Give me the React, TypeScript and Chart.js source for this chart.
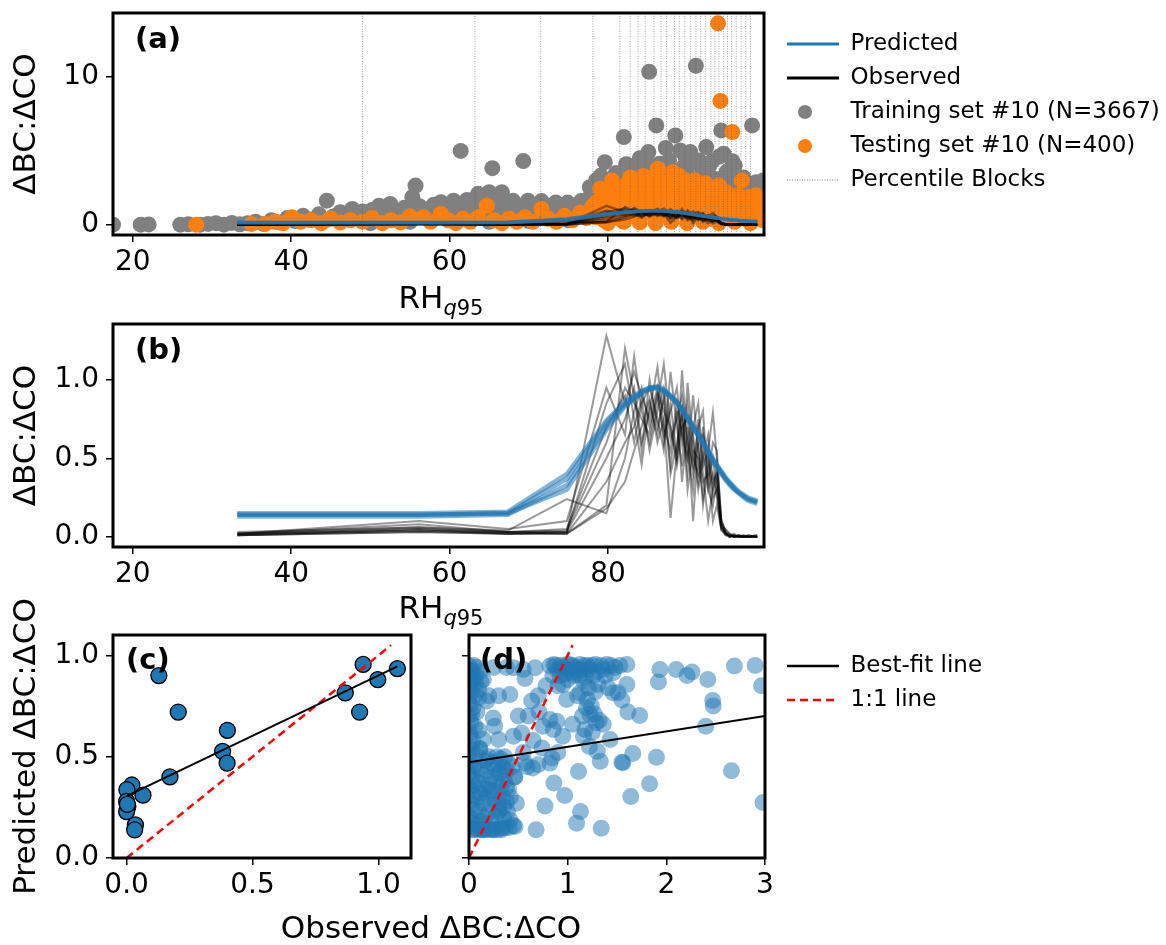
import React, { useEffect, useRef } from 'react';
import { Chart, registerables } from 'chart.js';

Chart.register(...registerables);

const FONT = "'DejaVu Sans', 'Liberation Sans', Arial, sans-serif";
Chart.defaults.font.family = FONT;
Chart.defaults.color = '#000';

const PAGE_W = 1166;
const PAGE_H = 945;
const LEGEND_CANVAS_W = 1400;

// ---------------- texts ----------------
const PANEL_LABELS = ['(a)', '(b)', '(c)', '(d)'];
const Y_TITLE_AB = 'ΔBC:ΔCO';
const Y_TITLE_C = 'Predicted ΔBC:ΔCO';
const X_TITLE_CD = 'Observed ΔBC:ΔCO';
const X_TITLE_RH = ['RH', 'q', '95'];
const LEGEND_TOP = ['Predicted', 'Observed', 'Training set #10 (N=3667)', 'Testing set #10 (N=400)', 'Percentile Blocks'];
const LEGEND_BOTTOM = ['Best-fit line', '1:1 line'];

// ---------------- ticks ----------------
const RH_TICKS = [20, 40, 60, 80];
const A_Y_TICKS = [0, 10];
const B_Y_TICKS = [0, 0.5, 1];
const C_X_TICKS = [0, 0.5, 1];
const C_Y_TICKS = [0, 0.5, 1];
const D_X_TICKS = [0, 1, 2, 3];
const D_Y_TICKS = [0, 0.5, 1];

// ---------------- panel (a)/(b) data ----------------
const PERCENTILE_BLOCKS = [49.0, 63.2, 71.5, 78.1, 81.5, 82.8, 83.8, 84.7, 85.8, 86.7, 87.4, 88.4, 89.0, 89.7, 90.4, 91.1, 91.7, 92.3, 93.0, 93.5, 94.0, 94.6, 95.1, 95.6, 96.2, 96.8, 97.4, 98.0];
const BLOCK_CENTERS = [33.2, 56.1, 67.35, 74.8, 79.8, 82.15, 83.3, 84.25, 85.25, 86.25, 87.05, 87.9, 88.7, 89.35, 90.05, 90.75, 91.4, 92.0, 92.65, 93.25, 93.75, 94.3, 94.85, 95.35, 95.9, 96.5, 97.1, 97.7, 98.85];

const PREDICTED_1 = [0.14, 0.14, 0.15, 0.37, 0.73, 0.85, 0.89, 0.92, 0.95, 0.95, 0.93, 0.90, 0.86, 0.81, 0.76, 0.70, 0.65, 0.60, 0.54, 0.49, 0.45, 0.41, 0.37, 0.34, 0.31, 0.28, 0.26, 0.24, 0.22];
const PREDICTED_2 = [0.13, 0.13, 0.14, 0.33, 0.70, 0.84, 0.88, 0.92, 0.94, 0.95, 0.93, 0.89, 0.85, 0.80, 0.75, 0.69, 0.64, 0.59, 0.53, 0.48, 0.44, 0.40, 0.36, 0.33, 0.30, 0.28, 0.25, 0.23, 0.21];
const PREDICTED_3 = [0.15, 0.15, 0.16, 0.40, 0.74, 0.86, 0.90, 0.93, 0.95, 0.96, 0.94, 0.90, 0.86, 0.82, 0.77, 0.71, 0.66, 0.61, 0.55, 0.50, 0.46, 0.42, 0.38, 0.35, 0.32, 0.29, 0.27, 0.25, 0.23];
const PREDICTED_4 = [0.14, 0.14, 0.15, 0.30, 0.68, 0.83, 0.88, 0.91, 0.94, 0.95, 0.92, 0.89, 0.85, 0.81, 0.75, 0.70, 0.64, 0.59, 0.54, 0.49, 0.45, 0.41, 0.37, 0.34, 0.31, 0.28, 0.26, 0.24, 0.22];
const PREDICTED = [PREDICTED_1, PREDICTED_2, PREDICTED_3, PREDICTED_4];

const OBSERVED_1 = [0.02, 0.05, 0.03, 0.03, 1.28, 0.85, 1.05, 0.90, 0.75, 0.95, 0.60, 0.85, 0.50, 0.75, 0.40, 0.65, 0.35, 0.55, 0.30, 0.20, 0.35, 0.08, 0.02, 0.01, 0.00, 0.01, 0.00, 0.00, 0.01];
const OBSERVED_2 = [0.01, 0.04, 0.02, 0.02, 0.20, 1.20, 0.90, 0.55, 1.00, 0.70, 0.88, 0.45, 0.80, 0.35, 0.70, 0.10, 0.60, 0.20, 0.45, 0.10, 0.20, 0.05, 0.03, 0.00, 0.01, 0.00, 0.00, 0.01, 0.00];
const OBSERVED_3 = [0.02, 0.10, 0.05, 0.10, 0.95, 0.65, 1.15, 0.80, 0.60, 0.85, 1.10, 0.70, 0.50, 1.06, 0.55, 0.30, 0.75, 0.40, 0.10, 0.30, 0.45, 0.10, 0.04, 0.02, 0.00, 0.00, 0.01, 0.00, 0.00];
const OBSERVED_4 = [0.01, 0.03, 0.02, 0.02, 0.18, 0.35, 0.55, 0.70, 0.88, 0.60, 0.75, 0.12, 0.55, 0.80, 0.50, 0.70, 0.85, 0.45, 0.55, 0.79, 0.50, 0.12, 0.02, 0.01, 0.00, 0.01, 0.00, 0.00, 0.00];
const OBSERVED_5 = [0.03, 0.06, 0.04, 0.24, 0.15, 0.50, 0.80, 0.95, 0.70, 0.90, 0.65, 0.80, 0.95, 0.60, 0.85, 0.50, 0.40, 0.70, 0.35, 0.50, 0.30, 0.06, 0.05, 0.02, 0.01, 0.00, 0.00, 0.00, 0.01];
const OBSERVED_6 = [0.02, 0.08, 0.03, 0.05, 0.70, 0.90, 0.60, 0.85, 0.95, 0.75, 0.55, 1.05, 0.70, 0.45, 0.98, 0.60, 0.30, 0.50, 0.65, 0.35, 0.40, 0.10, 0.03, 0.00, 0.02, 0.00, 0.00, 0.00, 0.00];
const OBSERVED_7 = [0.01, 0.05, 0.02, 0.03, 0.50, 0.75, 0.95, 0.60, 0.80, 1.08, 0.70, 0.55, 0.85, 0.65, 0.50, 0.90, 0.55, 0.35, 0.40, 0.60, 0.55, 0.08, 0.02, 0.01, 0.00, 0.00, 0.01, 0.00, 0.00];
const OBSERVED_8 = [0.02, 0.04, 0.03, 0.02, 0.35, 0.60, 0.70, 0.88, 0.55, 0.80, 0.95, 0.62, 0.75, 0.90, 0.60, 0.45, 0.70, 0.80, 0.30, 0.40, 0.25, 0.05, 0.01, 0.01, 0.00, 0.00, 0.00, 0.01, 0.00];
const OBSERVED_9 = [0.01, 0.03, 0.02, 0.03, 0.85, 1.10, 0.75, 0.46, 0.85, 0.65, 0.90, 0.40, 0.60, 0.80, 0.30, 0.55, 0.50, 0.25, 0.55, 0.25, 0.30, 0.04, 0.02, 0.00, 0.00, 0.01, 0.00, 0.00, 0.00];
const OBSERVED_10 = [0.02, 0.06, 0.03, 0.04, 0.60, 0.95, 0.85, 0.75, 0.65, 0.92, 0.80, 0.70, 0.45, 0.70, 0.75, 0.40, 0.60, 0.65, 0.50, 0.30, 0.40, 0.07, 0.01, 0.00, 0.01, 0.00, 0.00, 0.00, 0.00];
const OBSERVED = [OBSERVED_1, OBSERVED_2, OBSERVED_3, OBSERVED_4, OBSERVED_5, OBSERVED_6, OBSERVED_7, OBSERVED_8, OBSERVED_9, OBSERVED_10];

// training set scatter [RH, ratio]
const TRAIN_PTS: number[][] = [
  [17.5, 0], [21, 0], [22, 0.02], [26, 0], [27, 0.03], [28.5, 0], [29.5, 0.05], [30.5, 0.1], [31.5, 0], [32.5, 0.12], [33.5, 0.03], [34.5, 0.1],
  [35.5, 0.2], [36.5, 0.05], [37.5, 0.3], [38.5, 0.15], [39.5, 0.45], [40.5, 0.25], [41.5, 0.6], [42.5, 0.35], [43.5, 0.7], [44.5, 1.63],
  [44.3, 0.3], [45.3, 0.55], [46.2, 0.85], [47, 0.4], [47.7, 1.07], [48.3, 0.6],
  [49, 0.9], [49.6, 0.35], [50.2, 1.0], [50.8, 0.55], [51.1, 1.29], [51.8, 0.8], [52.5, 1.41], [53.1, 0.95], [53.7, 0.45], [54.3, 1.15],
  [54.9, 0.7], [55.3, 1.86], [55.7, 2.65], [56.2, 1.25], [56.8, 0.65], [57.4, 1.05], [58, 1.35], [58.5, 0.75], [58.9, 1.52], [59.5, 1.0],
  [60.1, 1.2], [60.5, 1.63], [61, 0.75], [61.4, 5.0], [61.8, 1.25], [62.2, 1.68], [62.8, 0.9], [63.2, 1.2], [63.6, 2.09], [64.1, 1.45],
  [64.6, 0.8], [65, 2.2], [65.4, 3.83], [65.9, 1.35], [66.3, 0.85], [66.6, 2.2], [67.1, 1.55], [67.6, 0.95], [68, 1.63], [68.6, 1.15],
  [69.1, 0.75], [69.3, 4.31], [69.9, 1.63], [70.4, 1.05], [70.9, 0.6], [71.3, 1.3], [71.6, 1.6], [72.1, 0.85], [72.6, 1.25], [73.1, 0.65],
  [73.4, 1.5], [73.9, 1.05], [74.4, 0.55], [74.9, 1.5], [75.4, 0.95], [75.9, 1.3], [76.3, 0.7], [76.6, 1.6], [77.1, 1.15], [77.7, 1.86],
  [77.7, 2.54], [78.1, 1.0], [50, 0.1], [55, 0.2], [60, 0.3], [65, 0.2], [70, 0.25], [75, 0.3],
  [78.5, 3.0], [79, 2.0], [79.1, 3.33], [79.6, 4.24], [80, 2.6], [80.5, 1.5], [81, 3.5], [81.5, 2.8], [82, 5.94], [82.3, 4.1], [82.7, 3.22],
  [83.2, 2.5], [83.6, 3.8], [84, 4.5], [84.5, 3.0], [85.1, 4.92], [85.2, 10.36], [85.3, 4.0], [85.7, 3.4], [86.1, 6.73], [86.5, 4.13],
  [87, 3.6], [87.3, 5.2], [87.7, 4.35], [88.1, 3.2], [88.5, 6.05], [89.1, 5.03], [89.5, 3.9], [89.8, 4.6], [90.1, 3.3], [90.4, 4.92],
  [90.8, 4.2], [91.1, 10.77], [91.5, 4.35], [91.9, 3.5], [92.1, 3.22], [92.4, 5.26], [92.8, 4.0], [93.2, 4.35], [93.6, 3.1], [94, 4.6],
  [94.3, 6.39], [94.6, 4.81], [95, 3.6], [95.4, 2.8], [95.7, 4.3], [96, 4.01], [96.4, 3.0], [96.8, 2.5], [97.1, 3.2], [97.6, 1.63],
  [98, 2.2], [98.2, 6.73], [98.7, 2.88], [99.2, 1.9], [99.6, 3.0], [99.6, 1.5], [99.7, 2.3], [99.5, 0.5], [98.5, 1.0]
];

// testing set scatter [RH, ratio]
const TEST_PTS: number[][] = [
  [28, 0], [35, 0.05], [36.7, 0.05], [38, 0.2], [39, 0.1], [40.1, 0.5], [41.2, 0.2], [42.5, 0.3], [43.8, 0.1], [45, 0.4], [46.2, 0.15],
  [47.5, 0.3], [49, 0.2], [50.2, 0.45], [51.5, 0.1], [52.6, 0.3], [53.8, 0.15], [55, 0.55], [56.7, 0.5], [57.6, 0.2], [58.9, 0.73],
  [59.8, 0.3], [60.8, 0.1], [61.7, 0.4], [62.6, 0.2], [63.6, 0.5], [64.7, 1.29], [65.6, 0.3], [66.6, 0.1], [67.5, 0.4], [68.5, 0.2],
  [69.5, 0.5], [70.5, 0.2], [71.6, 1.07], [72.5, 0.4], [73.5, 0.2], [74.5, 0.6], [75.5, 0.3], [76.5, 0.8], [77.3, 0.45], [78, 1.2],
  [78.5, 0.5], [78.5, 1.5], [79, 2.43], [79.1, 1.0], [79.5, 0.3], [79.8, 1.8], [80.2, 0.8], [80.5, 3.0], [80.8, 2.2], [81.2, 1.3],
  [81.5, 0.4], [81.8, 2.6], [82.2, 1.7], [82.5, 0.9], [82.8, 3.2], [83.1, 2.1], [83.5, 1.2], [83.8, 2.88], [84.1, 0.5], [84.4, 1.9],
  [84.7, 2.6], [85, 1.4], [85.3, 3.1], [85.6, 0.8], [85.9, 2.2], [86.3, 3.79], [86.5, 1.6], [86.8, 2.9], [87.1, 0.6], [87.4, 2.3],
  [87.7, 1.3], [88, 3.0], [88.2, 3.56], [88.5, 1.9], [88.8, 0.9], [89.1, 2.5], [89.4, 1.5], [89.7, 3.0], [89.9, 2.31], [90.2, 0.7],
  [90.5, 1.8], [90.8, 2.7], [91.1, 1.2], [91.4, 2.2], [91.7, 0.5], [92, 1.6], [92.3, 2.8], [92.6, 1.0], [92.9, 2.0], [93.2, 0.4],
  [93.5, 1.4], [93.9, 13.65], [94, 2.65], [94.2, 8.39], [94.3, 1.8], [94.6, 0.8], [94.9, 2.2], [95.2, 1.3], [95.5, 0.5], [95.7, 6.28],
  [95.8, 1.8], [96.1, 1.0], [96.4, 2.0], [96.7, 0.6], [96.9, 2.99], [97.2, 1.4], [97.5, 0.8], [97.8, 1.9], [98.1, 0.4], [98.4, 1.2],
  [98.7, 2.0], [99, 0.7], [99.3, 1.5], [99.6, 0.3], [99.6, 1.0], [80, 0.1], [82, 0.2], [84, 0.15], [86, 0.1], [88, 0.2], [90, 0.1],
  [92, 0.2], [94, 0.1], [96, 0.2], [98, 0.1], [83, 0.6], [87, 0.7], [81, 2.0], [84.5, 3.3], [86, 2.6], [89, 3.3], [91, 3.0], [93, 2.4], [80, 1.2]
];

// ---------------- panel (c) data [observed, predicted] ----------------
const C_PTS: number[][] = [
  [0.128, 0.90], [0.205, 0.72], [0.40, 0.63], [0.381, 0.526], [0.399, 0.468], [0.172, 0.40], [0.021, 0.36], [0.001, 0.337],
  [0.065, 0.31], [0.0, 0.279], [0.005, 0.254], [0.0, 0.229], [0.035, 0.163], [0.032, 0.139], [0.868, 0.815], [0.939, 0.955],
  [0.925, 0.72], [0.997, 0.88], [1.075, 0.934], [0.003, 0.265]
];
const C_FIT: number[][] = [[0, 0.305], [1.075, 0.945]];
const ONE_TO_ONE: number[][] = [[0, 0], [1.05, 1.05]];

// ---------------- panel (d) data [observed, predicted] ----------------
const D_PTS: number[][] = [
  [0, 0.95], [0.02, 0.93], [0.05, 0.95], [0.08, 0.94], [0.11, 0.92], [0.01, 0.9], [0.04, 0.88], [0.07, 0.86], [0.12, 0.87], [0.0, 0.84],
  [0.03, 0.82], [0.06, 0.8], [0.1, 0.79], [0.01, 0.76], [0.04, 0.74], [0.08, 0.72], [0.0, 0.7], [0.02, 0.67], [0.06, 0.65], [0.1, 0.63],
  [0.01, 0.6], [0.04, 0.58], [0.0, 0.55], [0.03, 0.53], [0.07, 0.51], [0.11, 0.54], [0.0, 0.5], [0.02, 0.47], [0.05, 0.45], [0.09, 0.44],
  [0.0, 0.42], [0.03, 0.4], [0.06, 0.38], [0.1, 0.37], [0.0, 0.35], [0.02, 0.33], [0.05, 0.31], [0.08, 0.3], [0.12, 0.32], [0.0, 0.28],
  [0.03, 0.26], [0.06, 0.24], [0.1, 0.23], [0.0, 0.21], [0.02, 0.19], [0.05, 0.17], [0.08, 0.16], [0.11, 0.18], [0.0, 0.15], [0.03, 0.14],
  [0.06, 0.14], [0.09, 0.14], [0.12, 0.14], [0.01, 0.62], [0.03, 0.71], [0.0, 0.79], [0.02, 0.86], [0.01, 0.45], [0.04, 0.36],
  [0.15, 0.14], [0.18, 0.14], [0.21, 0.14], [0.25, 0.14], [0.29, 0.14], [0.33, 0.14], [0.37, 0.15], [0.41, 0.15], [0.45, 0.16],
  [0.15, 0.2], [0.19, 0.22], [0.23, 0.18], [0.27, 0.21], [0.31, 0.24], [0.35, 0.2], [0.39, 0.23], [0.14, 0.27], [0.18, 0.3], [0.22, 0.26],
  [0.26, 0.29], [0.3, 0.27], [0.34, 0.3], [0.38, 0.28], [0.42, 0.3], [0.15, 0.34], [0.2, 0.36], [0.24, 0.33], [0.28, 0.37], [0.32, 0.35],
  [0.36, 0.38], [0.4, 0.34], [0.14, 0.41], [0.18, 0.43], [0.22, 0.4], [0.26, 0.44], [0.3, 0.42], [0.34, 0.45], [0.38, 0.43], [0.16, 0.48],
  [0.2, 0.5], [0.24, 0.47], [0.28, 0.5], [0.32, 0.49], [0.36, 0.5], [0.4, 0.47], [0.44, 0.45], [0.46, 0.4], [0.48, 0.27], [0.415, 0.188],
  [0.466, 0.155], [0.33, 0.147], [0.246, 0.139], [0.145, 0.139], [0.35, 0.254], [0.3, 0.229], [0.213, 0.337], [0.314, 0.42], [0.18, 0.485],
  [0.11, 0.535], [0.145, 0.584], [0.38, 0.353], [0.466, 0.40], [0.567, 0.468], [0.645, 0.444], [0.59, 0.45],
  [0.145, 0.88], [0.18, 0.774], [0.30, 0.80], [0.415, 0.807], [0.567, 0.885], [0.45, 0.939], [0.55, 0.93], [0.38, 0.94], [0.67, 0.939],
  [0.82, 0.947], [0.99, 0.955], [1.125, 0.955], [1.28, 0.955], [1.40, 0.955], [1.53, 0.95], [1.60, 0.955], [0.88, 0.95], [0.93, 0.95],
  [1.05, 0.95], [1.2, 0.95], [1.34, 0.95], [1.46, 0.914], [1.04, 0.914], [1.26, 0.90], [1.38, 0.90], [1.16, 0.873], [0.95, 0.856],
  [1.31, 0.856], [1.41, 0.84], [1.51, 0.815], [1.46, 0.815], [1.55, 0.779], [1.60, 0.856], [0.99, 0.782], [1.125, 0.815], [1.19, 0.741],
  [1.225, 0.708], [1.29, 0.667], [1.175, 0.634], [1.16, 0.60], [1.43, 0.584], [1.30, 0.526], [1.33, 0.477], [1.55, 0.472], [1.66, 0.515],
  [1.64, 0.303], [1.83, 0.366], [1.90, 0.497], [1.73, 0.703], [1.61, 0.72], [1.92, 0.868], [1.935, 0.93], [2.10, 0.93], [2.21, 0.90],
  [2.26, 0.917], [2.42, 0.88], [2.69, 0.947], [2.90, 0.95], [2.965, 0.85], [2.47, 0.777], [2.475, 0.75], [2.40, 0.65], [2.66, 0.43],
  [2.98, 0.274], [1.11, 0.427], [1.34, 0.147], [1.09, 0.172], [1.13, 0.229], [0.97, 0.308], [0.86, 0.37], [0.77, 0.257], [0.68, 0.139],
  [0.82, 0.468], [0.84, 0.493], [0.74, 0.543], [0.855, 0.634], [0.75, 0.65], [0.82, 0.683], [0.89, 0.675], [0.71, 0.72], [0.635, 0.774],
  [0.534, 0.617], [0.30, 0.584], [0.246, 0.69], [0.26, 0.65], [0.60, 0.70], [0.65, 0.58], [0.7, 0.8], [0.78, 0.85], [0.85, 0.9],
  [0.9, 0.85], [1.0, 0.88], [1.1, 0.8], [1.2, 0.78], [1.25, 0.62], [1.22, 0.55], [1.15, 0.7], [1.05, 0.66], [0.95, 0.6], [0.9, 0.52],
  [0.7, 0.46], [0.55, 0.52], [0.5, 0.7], [0.45, 0.6], [1.56, 0.47], [1.25, 0.95], [1.1, 0.93], [0.25, 0.94], [0.2, 0.8],
  [0.86, 0.955], [0.9, 0.93], [0.96, 0.94], [1.0, 0.93], [1.02, 0.955], [1.08, 0.94], [1.14, 0.93], [1.17, 0.95], [1.22, 0.93],
  [0.92, 0.9], [0.98, 0.91], [1.06, 0.9], [1.12, 0.9], [1.18, 0.89], [1.3, 0.92], [1.36, 0.93], [1.44, 0.95], [1.48, 0.94],
  [1.21, 0.84], [1.28, 0.82], [1.24, 0.75], [1.27, 0.71], [1.32, 0.68], [1.36, 0.66], [0.03, 0.92], [0.07, 0.9], [0.1, 0.83]
];
const D_FIT: number[][] = [[0, 0.472], [3, 0.70]];

// ---------------- colors ----------------
const BLUE = '#1f77b4';
const ORANGE = '#ff7f0e';
const GREY = '#808080';

type Box = { l: number; t: number; r: number; b: number };
const BOX_A: Box = { l: 113, t: 13, r: 764, b: 235 };
const BOX_B: Box = { l: 113, t: 324, r: 764, b: 547 };
const BOX_C: Box = { l: 113, t: 635, r: 411, b: 858 };
const BOX_D: Box = { l: 469, t: 635, r: 765, b: 858 };

const pts = (arr: number[][]) => arr.map(([x, y]) => ({ x, y }));
const seriesPts = (xs: number[], ys: number[]) => xs.map((x, i) => ({ x, y: ys[i] }));

function scaleCfg(dir: 'x' | 'y', box: Box, min: number, max: number, ticks: number[], fmt: (v: number) => string, title?: string) {
  return {
    type: 'linear',
    position: dir === 'x' ? 'bottom' : 'left',
    min,
    max,
    afterBuildTicks: (s: any) => {
      s.ticks = ticks.map((v) => ({ value: v }));
    },
    afterFit: (s: any) => {
      if (dir === 'x') s.height = PAGE_H - box.b;
      else s.width = box.l;
      s.paddingLeft = 0;
      s.paddingRight = 0;
      s.paddingTop = 0;
      s.paddingBottom = 0;
    },
    grid: { display: true, drawOnChartArea: false, drawTicks: true, tickLength: 7, color: '#000', lineWidth: 1.5 },
    border: { display: false },
    ticks: {
      callback: (v: number) => fmt(v),
      font: { size: 28 },
      color: '#000',
      padding: dir === 'x' ? 4 : 7,
      maxRotation: 0,
      autoSkip: false,
    },
    title: title
      ? { display: true, text: title, font: { size: 31 }, color: '#000', padding: { top: 8, bottom: 0 } }
      : { display: false },
  };
}

type Deco = { label: string; lx: number; ly: number; rh?: { cx: number; by: number }; text?: { s: string; cx: number; by: number } };

function decoPlugin(d: Deco) {
  return {
    id: 'deco',
    afterDraw(chart: any) {
      const { ctx, chartArea: a } = chart;
      ctx.save();
      ctx.lineWidth = 3;
      ctx.strokeStyle = '#000';
      ctx.strokeRect(a.left, a.top, a.right - a.left, a.bottom - a.top);
      ctx.fillStyle = '#000';
      ctx.textBaseline = 'alphabetic';
      ctx.textAlign = 'left';
      ctx.font = `bold 29px ${FONT}`;
      ctx.fillText(d.label, d.lx, d.ly);
      if (d.rh) {
        const big = `31px ${FONT}`;
        const subI = `italic 21px ${FONT}`;
        const sub = `21px ${FONT}`;
        ctx.font = big;
        const w1 = ctx.measureText(X_TITLE_RH[0]).width;
        ctx.font = subI;
        const w2 = ctx.measureText(X_TITLE_RH[1]).width;
        ctx.font = sub;
        const w3 = ctx.measureText(X_TITLE_RH[2]).width;
        let x = d.rh.cx - (w1 + w2 + w3) / 2;
        ctx.font = big;
        ctx.fillText(X_TITLE_RH[0], x, d.rh.by);
        x += w1;
        ctx.font = subI;
        ctx.fillText(X_TITLE_RH[1], x, d.rh.by + 7);
        x += w2;
        ctx.font = sub;
        ctx.fillText(X_TITLE_RH[2], x, d.rh.by + 7);
      }
      if (d.text) {
        ctx.font = `31px ${FONT}`;
        ctx.textAlign = 'center';
        ctx.fillText(d.text.s, d.text.cx, d.text.by);
      }
      ctx.restore();
    },
  };
}

function baseOptions(box: Box, scales: any) {
  return {
    responsive: false,
    animation: false,
    events: [],
    layout: { padding: { left: 0, top: box.t, right: PAGE_W - box.r, bottom: 0 }, autoPadding: false },
    plugins: { legend: { display: false }, tooltip: { enabled: false } },
    scales,
  };
}

const fmtInt = (v: number) => String(Math.round(v));
const fmt1 = (v: number) => v.toFixed(1);
const fmtNone = (_v: number) => '';

function lineDatasets(lineW: { pred: number; obs: number }) {
  const obs = OBSERVED.map((ys, i) => ({
    label: 'obs' + i,
    data: seriesPts(BLOCK_CENTERS, ys),
    showLine: true,
    borderColor: 'rgba(0,0,0,0.4)',
    borderWidth: lineW.obs,
    pointRadius: 0,
    fill: false,
    tension: 0,
    order: 1,
    clip: 0,
  }));
  const pred = PREDICTED.map((ys, i) => ({
    label: 'pred' + i,
    data: seriesPts(BLOCK_CENTERS, ys),
    showLine: true,
    borderColor: 'rgba(31,119,180,0.55)',
    borderWidth: lineW.pred,
    pointRadius: 0,
    fill: false,
    tension: 0,
    order: 0,
    clip: 0,
  }));
  return [...pred, ...obs];
}

function configA() {
  const vlines = PERCENTILE_BLOCKS.map((x, i) => ({
    label: 'pct' + i,
    data: [{ x, y: -1 }, { x, y: 15 }],
    showLine: true,
    borderColor: 'rgba(90,90,90,0.7)',
    borderWidth: 0.8,
    borderDash: [1, 1.5],
    pointRadius: 0,
    fill: false,
    order: 2,
    clip: 0,
  }));
  return {
    type: 'scatter',
    data: {
      datasets: [
        ...lineDatasets({ pred: 3.5, obs: 2.5 }),
        ...vlines,
        { label: 'test', data: pts(TEST_PTS), pointBackgroundColor: ORANGE, pointBorderWidth: 0, pointRadius: 8, order: 3, clip: 0 },
        { label: 'train', data: pts(TRAIN_PTS), pointBackgroundColor: GREY, pointBorderWidth: 0, pointRadius: 8, order: 4, clip: 0 },
      ],
    },
    options: baseOptions(BOX_A, {
      x: scaleCfg('x', BOX_A, 17.5, 99.7, RH_TICKS, fmtInt),
      y: scaleCfg('y', BOX_A, -0.7, 14.35, A_Y_TICKS, fmtInt, Y_TITLE_AB),
    }),
    plugins: [decoPlugin({ label: PANEL_LABELS[0], lx: 135, ly: 48, rh: { cx: 441, by: 308 } })],
  };
}

function configB() {
  return {
    type: 'scatter',
    data: { datasets: lineDatasets({ pred: 4.5, obs: 2 }) },
    options: baseOptions(BOX_B, {
      x: scaleCfg('x', BOX_B, 17.5, 99.7, RH_TICKS, fmtInt),
      y: scaleCfg('y', BOX_B, -0.065, 1.355, B_Y_TICKS, fmt1, Y_TITLE_AB),
    }),
    plugins: [decoPlugin({ label: PANEL_LABELS[1], lx: 135, ly: 359, rh: { cx: 441, by: 618 } })],
  };
}

function fitLines(fit: number[][]) {
  return [
    { label: 'fit', data: pts(fit), showLine: true, borderColor: '#000', borderWidth: 2, pointRadius: 0, fill: false, order: 0, clip: 0 },
    { label: 'one', data: pts(ONE_TO_ONE), showLine: true, borderColor: '#ff0000', borderWidth: 2.5, borderDash: [8, 5], pointRadius: 0, fill: false, order: 1, clip: 0 },
  ];
}

function configC() {
  return {
    type: 'scatter',
    data: {
      datasets: [
        ...fitLines(C_FIT),
        { label: 'c', data: pts(C_PTS), pointBackgroundColor: BLUE, pointBorderColor: '#000', pointBorderWidth: 1.3, pointRadius: 8, order: 2, clip: 0 },
      ],
    },
    options: baseOptions(BOX_C, {
      x: scaleCfg('x', BOX_C, -0.054, 1.129, C_X_TICKS, fmt1),
      y: scaleCfg('y', BOX_C, 0, 1.1, C_Y_TICKS, fmt1, Y_TITLE_C),
    }),
    plugins: [decoPlugin({ label: PANEL_LABELS[2], lx: 126, ly: 669, text: { s: X_TITLE_CD, cx: 431, by: 938 } })],
  };
}

function configD() {
  return {
    type: 'scatter',
    data: {
      datasets: [
        ...fitLines(D_FIT),
        { label: 'd', data: pts(D_PTS), pointBackgroundColor: 'rgba(31,119,180,0.5)', pointBorderWidth: 0, pointRadius: 8.5, order: 2, clip: 0 },
      ],
    },
    options: baseOptions(BOX_D, {
      x: scaleCfg('x', BOX_D, 0, 3, D_X_TICKS, fmtInt),
      y: scaleCfg('y', BOX_D, 0, 1.1, D_Y_TICKS, fmtNone),
    }),
    plugins: [decoPlugin({ label: PANEL_LABELS[3], lx: 480, ly: 669 })],
  };
}

// legend glyph for scatter entries (a round marker inside a box as wide as the line glyphs)
const ICON_W = 60;
function circleIcon(color: string) {
  const c = document.createElement('canvas');
  c.width = ICON_W;
  c.height = 16;
  const g = c.getContext('2d');
  if (g) {
    g.fillStyle = color;
    g.beginPath();
    g.arc(22, 8, 7, 0, Math.PI * 2);
    g.fill();
  }
  return c;
}

type LegendSpec = { text: string; style: any; stroke: string; fill: string; lw: number; dash: number[] };

function topLegendSpecs(): LegendSpec[] {
  return [
    { text: LEGEND_TOP[0], style: 'line', stroke: BLUE, fill: BLUE, lw: 3, dash: [] },
    { text: LEGEND_TOP[1], style: 'line', stroke: '#000', fill: '#000', lw: 3, dash: [] },
    { text: LEGEND_TOP[2], style: circleIcon(GREY), stroke: GREY, fill: GREY, lw: 0, dash: [] },
    { text: LEGEND_TOP[3], style: circleIcon(ORANGE), stroke: ORANGE, fill: ORANGE, lw: 0, dash: [] },
    { text: LEGEND_TOP[4], style: 'line', stroke: 'rgba(90,90,90,0.8)', fill: 'rgba(0,0,0,0)', lw: 1, dash: [1, 1.5] },
  ];
}
function bottomLegendSpecs(): LegendSpec[] {
  return [
    { text: LEGEND_BOTTOM[0], style: 'line', stroke: '#000', fill: '#000', lw: 2.5, dash: [] },
    { text: LEGEND_BOTTOM[1], style: 'line', stroke: '#ff0000', fill: 'rgba(0,0,0,0)', lw: 2.5, dash: [8, 5] },
  ];
}

function legendConfig(items: LegendSpec[], padLeft: number, padTop: number) {
  return {
    type: 'scatter',
    data: { datasets: [] },
    options: {
      responsive: false,
      animation: false,
      events: [],
      layout: { padding: { left: padLeft, top: padTop, right: 0, bottom: 0 }, autoPadding: false },
      scales: { x: { display: false }, y: { display: false } },
      plugins: {
        tooltip: { enabled: false },
        legend: {
          display: true,
          position: 'left',
          align: 'start',
          maxWidth: 480,
          labels: {
            usePointStyle: true,
            pointStyleWidth: 52,
            boxHeight: 9,
            padding: 11,
            font: { size: 23 },
            color: '#000',
            generateLabels: () =>
              items.map((it) => ({
                text: it.text,
                fillStyle: it.fill,
                strokeStyle: it.stroke,
                lineWidth: it.lw,
                lineDash: it.dash,
                pointStyle: it.style,
                hidden: false,
                fontColor: '#000',
              })),
          },
        },
      },
    },
  };
}

export default function App() {
  const refA = useRef<HTMLCanvasElement>(null);
  const refB = useRef<HTMLCanvasElement>(null);
  const refC = useRef<HTMLCanvasElement>(null);
  const refD = useRef<HTMLCanvasElement>(null);
  const refL1 = useRef<HTMLCanvasElement>(null);
  const refL2 = useRef<HTMLCanvasElement>(null);

  useEffect(() => {
    const charts: Chart[] = [];
    const make = (el: HTMLCanvasElement | null, cfg: any) => {
      if (el) charts.push(new Chart(el, cfg));
    };
    make(refA.current, configA());
    make(refB.current, configB());
    make(refC.current, configC());
    make(refD.current, configD());
    make(refL1.current, legendConfig(topLegendSpecs(), 776, 21.5));
    make(refL2.current, legendConfig(bottomLegendSpecs(), 776, 643.5));
    return () => charts.forEach((c) => c.destroy());
  }, []);

  const cs: React.CSSProperties = { position: 'absolute', left: 0, top: 0 };
  return (
    <div style={{ position: 'absolute', left: 0, top: 0, width: PAGE_W, height: PAGE_H, background: '#fff', overflow: 'hidden' }}>
      <canvas ref={refA} width={PAGE_W} height={PAGE_H} style={cs} />
      <canvas ref={refB} width={PAGE_W} height={PAGE_H} style={cs} />
      <canvas ref={refC} width={PAGE_W} height={PAGE_H} style={cs} />
      <canvas ref={refD} width={PAGE_W} height={PAGE_H} style={cs} />
      <canvas ref={refL1} width={LEGEND_CANVAS_W} height={PAGE_H} style={cs} />
      <canvas ref={refL2} width={LEGEND_CANVAS_W} height={PAGE_H} style={cs} />
    </div>
  );
}
